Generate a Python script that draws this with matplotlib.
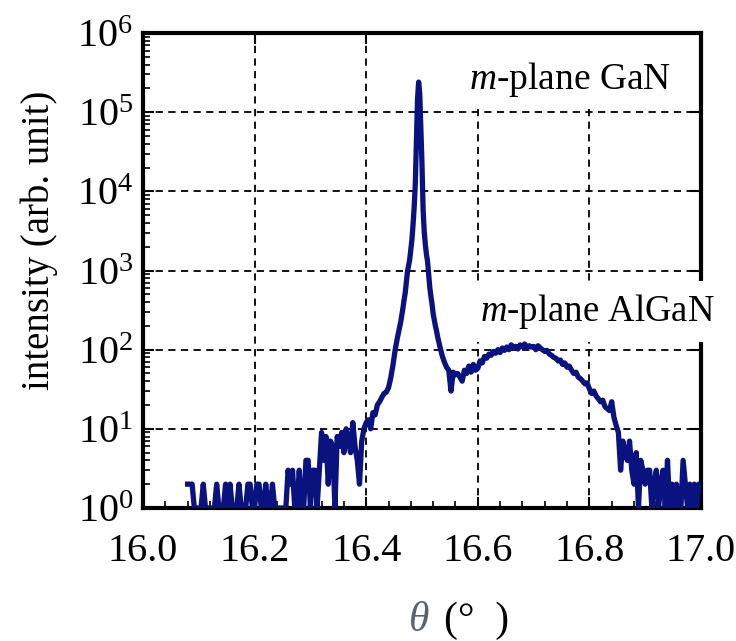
import numpy as np
import matplotlib
matplotlib.use("Agg")
import matplotlib.pyplot as plt
from matplotlib.patches import Rectangle
from matplotlib.ticker import LogLocator, MultipleLocator, NullFormatter

plt.rcParams['font.family'] = ['Liberation Serif', 'DejaVu Serif']
plt.rcParams['mathtext.fontset'] = 'custom'
plt.rcParams['mathtext.rm'] = 'Liberation Serif'
plt.rcParams['mathtext.it'] = 'Liberation Serif:italic'

# scan, three pieces with their own step
start_lo, step_lo = 16.080, 0.004
counts_lo = [2, 2, 2, 1, 1, 1, 1, 2, 1, 1, 1, 1, 1, 2, 1, 1, 1, 2, 1, 2,
             1, 1, 1, 2, 1, 1, 1, 2, 2, 1, 1, 2, 2, 1, 1, 2, 1, 1, 2, 1,
             1, 1, 1, 1, 1, 3, 2, 3, 1, 1, 3, 1, 1, 4, 4, 1, 3, 3, 1, 3,
             9, 4, 8, 2, 7, 6, 1, 8, 6, 9, 5, 10, 7, 5, 12, 6, 4, 2, 7, 10,
             12, 13, 10, 16, 15, 20, 22, 25, 28, 29, 33, 44, 64, 100, 142]

start_pk, step_pk = 16.460, 0.002
counts_pk = [195, 226, 277, 340, 430, 525, 720, 970, 1150, 1380,
             1850, 2460, 3820, 6300, 12300, 45000, 146000, 240000, 170000, 60000,
             22000, 5900, 3100, 2130, 1600, 1300, 890, 610, 470, 380,
             285, 240, 200, 174, 146]

start_hi, step_hi = 16.532, 0.004
counts_hi = [110, 85, 70, 60, 55, 30, 52, 48, 50, 45, 40, 55, 50, 62, 52, 65,
             55, 58, 72, 68, 82, 78, 88, 85, 95, 90, 100, 92, 105, 98, 108, 100,
             115, 105, 110, 102, 115, 108, 118, 105, 112, 108, 110, 100, 112, 105, 100, 95,
             98, 88, 85, 80, 78, 72, 74, 65, 68, 60, 62, 55, 50, 52, 45, 43,
             40, 37, 38, 32, 28, 30, 26, 24, 22, 23, 19, 18, 17, 22, 14, 11,
             9, 3, 7, 5, 4, 7, 3, 2, 5, 1, 4, 3, 2, 3, 3, 1,
             2, 3, 1, 2, 3, 1, 4, 1, 2, 1, 2, 1, 1, 4, 2, 1,
             2, 1, 2, 1, 2, 2]

theta = np.concatenate([
    start_lo + step_lo * np.arange(len(counts_lo)),
    start_pk + step_pk * np.arange(len(counts_pk)),
    start_hi + step_hi * np.arange(len(counts_hi)),
])
counts = np.array(counts_lo + counts_pk + counts_hi, dtype=float)

fig = plt.figure(figsize=(7.36, 6.41), dpi=100)
ax = fig.add_axes([0.1943, 0.2075, 0.7581, 0.741])

ax.plot(theta, counts, color='#0a1280', lw=3.8, solid_joinstyle='round', zorder=3)

ax.set_yscale('log')
ax.set_xlim(16.0, 17.0)
ax.set_ylim(1, 1e6)
ax.xaxis.set_major_locator(MultipleLocator(0.2))
ax.xaxis.set_minor_locator(MultipleLocator(0.04))
ax.xaxis.set_major_formatter(plt.FuncFormatter(lambda v, p: f'{v:.1f}'))
ax.yaxis.set_major_locator(LogLocator(base=10, numticks=10))
ax.yaxis.set_minor_locator(LogLocator(base=10, subs=np.arange(2, 10), numticks=20))
ax.yaxis.set_minor_formatter(NullFormatter())

ax.grid(True, which='major', color='black', ls=(0, (4, 3)), lw=1.3)
for s in ax.spines.values():
    s.set_linewidth(3)

ax.tick_params(which='major', direction='in', length=8, width=1.5,
               labelsize=29, top=True, right=True)
ax.tick_params(which='minor', direction='in', length=5, width=1.2,
               top=False, right=False)
ax.tick_params(axis='x', pad=18)
ax.tick_params(axis='y', pad=7)

ax.set_ylabel('intensity (arb. unit)', fontsize=28)
ax.yaxis.set_label_coords(-0.152, 0.564)

# white area behind the GaN label hides the grid above the 1e5 line
ax.add_patch(Rectangle((0.559, 0.846), 0.44, 0.16, transform=ax.transAxes,
                       fc='white', ec='none', zorder=1.8))
ax.text(16.584, 2.6e5, r'$m$-plane GaN', fontsize=27, va='center', ha='left',
        zorder=1.9)
# AlGaN label box covers grid and right spine, but stays under the curve
ax.text(16.604, 300, r'$m$-plane AlGaN', fontsize=26.5, va='center', ha='left',
        clip_on=False, zorder=2.8,
        bbox=dict(boxstyle='square,pad=0.3', fc='white', ec='none'))

fig.text(0.555, 0.032, 'θ', fontsize=30, style='italic', color='#5a6470',
         ha='left', va='center')
fig.text(0.603, 0.032, '(°  )', fontsize=30, ha='left', va='center')

fig.savefig('out.png', dpi=100)
